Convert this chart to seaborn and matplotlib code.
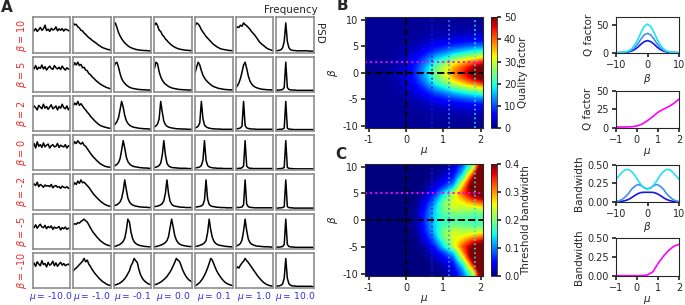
import numpy as np
import matplotlib
matplotlib.use("Agg")
import matplotlib.pyplot as plt
import seaborn as sns

# ---------------- data ----------------
beta_rows = ["10", "5", "2", "0", "-2", "-5", "-10"]
mu_cols = ["-10.0", "-1.0", "-0.1", "0.0", "0.1", "1.0", "10.0"]

# PSD panels (percent of max), 25 samples across the frequency window
psd_beta_10 = [
    [78, 72, 80, 70, 76, 84, 74, 79, 92, 73, 78, 70, 81, 75, 77, 86, 72, 79, 74, 80, 71, 78, 76, 73, 70],
    [100, 93, 95, 86, 82, 74, 72, 64, 60, 53, 48, 44, 39, 35, 31, 27, 22, 19, 15, 12, 10, 8, 6, 5, 4],
    [96, 100, 84, 66, 54, 44, 36, 29, 24, 19, 15, 12, 10, 8, 6, 5, 4, 3, 3, 2, 2, 2, 1, 1, 1],
    [92, 100, 90, 74, 70, 58, 52, 43, 38, 31, 26, 21, 17, 14, 11, 9, 7, 6, 5, 4, 3, 3, 2, 2, 1],
    [90, 100, 96, 88, 76, 68, 60, 52, 46, 40, 34, 28, 23, 19, 15, 12, 9, 7, 6, 5, 4, 3, 2, 2, 1],
    [80, 86, 84, 92, 88, 100, 94, 90, 84, 78, 70, 64, 58, 50, 42, 34, 28, 23, 19, 14, 10, 7, 5, 3, 2],
    [1, 2, 3, 5, 12, 34, 100, 34, 12, 5, 3, 2, 2, 1, 1, 1, 1, 1, 1, 1, 1, 0, 0, 0, 0],
]
psd_beta_5 = [
    [80, 76, 88, 74, 82, 78, 90, 76, 84, 72, 80, 86, 78, 74, 88, 80, 76, 82, 74, 86, 78, 72, 80, 76, 74],
    [86, 98, 90, 100, 88, 92, 80, 82, 72, 70, 60, 56, 49, 44, 38, 33, 28, 24, 20, 17, 14, 11, 9, 7, 6],
    [84, 96, 100, 82, 60, 42, 32, 25, 19, 15, 11, 9, 7, 6, 5, 4, 3, 3, 2, 2, 2, 1, 1, 1, 1],
    [78, 100, 94, 66, 48, 36, 28, 22, 18, 14, 11, 9, 7, 6, 5, 4, 3, 3, 2, 2, 2, 1, 1, 1, 1],
    [62, 84, 100, 90, 70, 54, 44, 36, 30, 25, 20, 16, 13, 11, 9, 7, 6, 5, 4, 3, 3, 2, 2, 2, 1],
    [10, 16, 26, 42, 64, 90, 100, 78, 52, 34, 24, 17, 13, 10, 8, 6, 5, 4, 3, 3, 2, 2, 2, 1, 1],
    [0, 1, 1, 2, 3, 10, 100, 10, 3, 2, 1, 1, 1, 0, 0, 0, 0, 0, 0, 0, 0, 0, 0, 0, 0],
]
psd_beta_2 = [
    [76, 84, 78, 70, 86, 80, 74, 90, 76, 82, 72, 80, 88, 74, 78, 84, 70, 82, 76, 90, 78, 74, 84, 70, 80],
    [84, 94, 88, 100, 86, 92, 84, 76, 70, 62, 56, 48, 42, 36, 30, 25, 20, 16, 13, 11, 9, 8, 6, 5, 5],
    [16, 20, 28, 42, 70, 100, 80, 50, 32, 22, 16, 12, 10, 8, 7, 6, 5, 4, 4, 3, 3, 3, 2, 2, 2],
    [10, 13, 20, 38, 100, 62, 30, 18, 12, 9, 7, 6, 5, 4, 3, 3, 3, 2, 2, 2, 2, 1, 1, 1, 1],
    [6, 8, 12, 24, 100, 40, 16, 10, 7, 5, 4, 3, 3, 2, 2, 2, 2, 1, 1, 1, 1, 1, 1, 1, 1],
    [2, 3, 4, 6, 12, 100, 14, 6, 4, 3, 2, 2, 2, 1, 1, 1, 1, 1, 1, 1, 1, 1, 1, 1, 1],
    [0, 0, 1, 1, 2, 5, 100, 5, 2, 1, 1, 0, 0, 0, 0, 0, 0, 0, 0, 0, 0, 0, 0, 0, 0],
]
psd_beta_0 = [
    [82, 90, 74, 96, 80, 86, 76, 92, 78, 84, 88, 74, 82, 86, 78, 80, 90, 76, 84, 80, 78, 86, 74, 82, 80],
    [86, 96, 90, 100, 92, 88, 94, 84, 80, 72, 64, 56, 48, 42, 36, 30, 25, 20, 16, 13, 10, 8, 7, 6, 5],
    [10, 12, 16, 22, 36, 66, 100, 74, 42, 26, 18, 13, 10, 8, 7, 6, 5, 4, 4, 3, 3, 3, 2, 2, 2],
    [5, 6, 8, 12, 20, 48, 100, 50, 20, 11, 7, 5, 4, 4, 3, 3, 2, 2, 2, 2, 2, 1, 1, 1, 1],
    [3, 4, 5, 7, 12, 30, 100, 30, 12, 7, 5, 4, 3, 3, 2, 2, 2, 2, 1, 1, 1, 1, 1, 1, 1],
    [1, 1, 2, 2, 4, 10, 100, 10, 4, 2, 2, 1, 1, 1, 1, 1, 1, 1, 1, 1, 1, 1, 1, 1, 1],
    [0, 0, 1, 1, 2, 5, 100, 5, 2, 1, 1, 0, 0, 0, 0, 0, 0, 0, 0, 0, 0, 0, 0, 0, 0],
]
psd_beta_m2 = [
    [78, 86, 80, 92, 76, 84, 80, 74, 82, 78, 80, 76, 84, 72, 78, 80, 74, 76, 70, 78, 74, 72, 76, 70, 72],
    [80, 90, 84, 96, 88, 100, 90, 92, 86, 80, 74, 66, 58, 50, 44, 38, 32, 27, 22, 18, 14, 11, 9, 7, 6],
    [8, 10, 12, 16, 22, 34, 60, 100, 66, 36, 22, 15, 11, 9, 7, 6, 5, 4, 4, 3, 3, 3, 2, 2, 2],
    [5, 6, 7, 9, 12, 16, 26, 52, 100, 52, 24, 14, 9, 7, 6, 5, 4, 3, 3, 3, 2, 2, 2, 2, 1],
    [3, 4, 5, 6, 8, 12, 28, 100, 32, 13, 8, 6, 5, 4, 3, 3, 2, 2, 2, 2, 1, 1, 1, 1, 1],
    [1, 2, 2, 3, 4, 12, 100, 14, 5, 3, 2, 2, 1, 1, 1, 1, 1, 1, 1, 1, 1, 1, 1, 1, 1],
    [0, 0, 1, 1, 2, 5, 100, 5, 2, 1, 1, 0, 0, 0, 0, 0, 0, 0, 0, 0, 0, 0, 0, 0, 0],
]
psd_beta_m5 = [
    [74, 70, 80, 68, 76, 82, 72, 70, 78, 66, 74, 70, 76, 64, 72, 68, 70, 74, 62, 70, 66, 72, 64, 68, 66],
    [80, 84, 82, 88, 86, 92, 96, 100, 94, 90, 80, 70, 60, 52, 45, 38, 32, 26, 21, 17, 13, 10, 8, 6, 5],
    [2, 4, 6, 8, 11, 15, 21, 32, 60, 100, 90, 54, 32, 20, 14, 10, 8, 6, 5, 4, 3, 3, 2, 2, 2],
    [2, 3, 4, 6, 8, 10, 13, 17, 24, 38, 70, 100, 72, 42, 26, 17, 12, 9, 7, 6, 5, 4, 3, 3, 2],
    [3, 4, 5, 7, 9, 12, 16, 24, 52, 100, 62, 36, 22, 15, 11, 8, 7, 6, 5, 4, 3, 3, 2, 2, 2],
    [4, 6, 9, 14, 26, 58, 100, 60, 30, 18, 12, 9, 7, 5, 4, 4, 3, 3, 2, 2, 2, 2, 1, 1, 1],
    [0, 1, 1, 2, 3, 10, 100, 10, 3, 2, 1, 1, 0, 0, 0, 0, 0, 0, 0, 0, 0, 0, 0, 0, 0],
]
psd_beta_m10 = [
    [76, 84, 72, 88, 80, 74, 92, 78, 82, 70, 86, 76, 80, 90, 74, 84, 72, 80, 86, 76, 82, 74, 78, 80, 76],
    [55, 62, 66, 72, 78, 84, 90, 100, 88, 94, 80, 72, 62, 54, 46, 40, 33, 27, 22, 17, 14, 10, 7, 5, 4],
    [4, 6, 8, 10, 13, 17, 22, 28, 36, 46, 56, 74, 84, 100, 92, 86, 62, 44, 32, 24, 18, 14, 10, 8, 6],
    [6, 8, 10, 13, 16, 20, 25, 30, 36, 44, 52, 62, 74, 86, 100, 94, 90, 76, 60, 48, 38, 30, 24, 20, 17],
    [3, 6, 10, 15, 22, 30, 40, 52, 66, 82, 100, 94, 80, 66, 54, 44, 36, 28, 22, 16, 12, 9, 7, 5, 4],
    [62, 70, 66, 76, 84, 90, 100, 92, 86, 78, 70, 62, 54, 46, 38, 31, 25, 19, 14, 10, 7, 5, 3, 2, 1],
    [1, 2, 3, 5, 10, 30, 100, 30, 10, 5, 3, 2, 2, 1, 1, 1, 1, 1, 1, 1, 1, 1, 1, 0, 0],
]

# heatmap grids: columns = mu, rows = beta (from -10 to 10)
hm_mu = [-1.0, -0.75, -0.5, -0.25, 0.0, 0.25, 0.5, 0.75, 1.0, 1.25, 1.5, 1.75, 2.0]
hm_beta = list(range(-10, 11))
q_grid = [
    [1, 1, 1, 1, 1, 1, 1, 1, 1, 1, 1, 1, 1],
    [1, 1, 1, 1, 1, 1, 1.1, 1.2, 1.2, 1.3, 1.3, 1.3, 1.4],
    [1, 1, 1, 1, 1.1, 1.2, 1.3, 1.5, 1.6, 1.7, 1.9, 2.0, 2.1],
    [1, 1, 1, 1.1, 1.2, 1.4, 1.7, 2.2, 2.5, 2.9, 3.2, 3.5, 3.7],
    [1, 1, 1, 1.1, 1.4, 1.8, 2.5, 3.5, 4.2, 5.1, 5.7, 6.4, 6.9],
    [1, 1, 1.1, 1.3, 1.7, 2.6, 3.9, 5.8, 7.1, 8.8, 10.0, 11.3, 12.3],
    [1, 1, 1.1, 1.4, 2.3, 3.7, 6.0, 9.3, 11.4, 14.3, 16.5, 18.6, 20.4],
    [1, 1.1, 1.2, 1.7, 3.0, 5.2, 8.8, 13.9, 17.2, 21.7, 25.1, 28.4, 31.2],
    [1, 1.1, 1.2, 1.9, 3.7, 6.9, 11.9, 18.9, 23.6, 29.9, 34.5, 39.2, 43.1],
    [1, 1.1, 1.3, 2.1, 4.3, 8.1, 14.2, 22.6, 28.3, 35.8, 41.4, 47.1, 51.8],
    [1, 1.1, 1.3, 2.2, 4.5, 8.5, 15.0, 24.0, 30.0, 38.0, 44.0, 50.0, 55.0],
    [1, 1.1, 1.3, 2.1, 4.3, 8.1, 14.2, 22.6, 28.3, 35.8, 41.4, 47.1, 51.8],
    [1, 1.1, 1.2, 1.9, 3.7, 6.9, 11.9, 18.9, 23.6, 29.9, 34.5, 39.2, 43.1],
    [1, 1.1, 1.2, 1.7, 3.0, 5.2, 8.8, 13.9, 17.2, 21.7, 25.1, 28.4, 31.2],
    [1, 1, 1.1, 1.4, 2.3, 3.7, 6.0, 9.3, 11.4, 14.3, 16.5, 18.6, 20.4],
    [1, 1, 1.1, 1.3, 1.7, 2.6, 3.9, 5.8, 7.1, 8.8, 10.0, 11.3, 12.3],
    [1, 1, 1, 1.1, 1.4, 1.8, 2.5, 3.5, 4.2, 5.1, 5.7, 6.4, 6.9],
    [1, 1, 1, 1.1, 1.2, 1.4, 1.7, 2.2, 2.5, 2.9, 3.2, 3.5, 3.7],
    [1, 1, 1, 1, 1.1, 1.2, 1.3, 1.5, 1.6, 1.7, 1.9, 2.0, 2.1],
    [1, 1, 1, 1, 1, 1, 1.1, 1.2, 1.2, 1.3, 1.3, 1.3, 1.4],
    [1, 1, 1, 1, 1, 1, 1, 1, 1, 1, 1, 1, 1],
]
bw_grid = [
    [0, 0, 0, 0, 0, 0, 0, 0, 0.01, 0.03, 0.09, 0.20, 0.45],
    [0, 0, 0, 0, 0, 0, 0, 0.004, 0.015, 0.04, 0.12, 0.28, 0.50],
    [0, 0, 0, 0, 0, 0, 0, 0.01, 0.03, 0.06, 0.17, 0.36, 0.50],
    [0, 0, 0, 0, 0, 0, 0.003, 0.02, 0.05, 0.09, 0.24, 0.42, 0.48],
    [0, 0, 0, 0, 0, 0, 0.006, 0.035, 0.08, 0.14, 0.30, 0.43, 0.46],
    [0, 0, 0, 0, 0, 0, 0.012, 0.06, 0.14, 0.23, 0.33, 0.40, 0.43],
    [0, 0, 0, 0, 0, 0.002, 0.03, 0.09, 0.17, 0.24, 0.29, 0.35, 0.38],
    [0, 0, 0, 0, 0, 0.003, 0.045, 0.115, 0.20, 0.25, 0.25, 0.28, 0.305],
    [0, 0, 0, 0, 0, 0.006, 0.06, 0.13, 0.195, 0.235, 0.225, 0.225, 0.235],
    [0, 0, 0, 0, 0, 0.01, 0.065, 0.135, 0.175, 0.195, 0.19, 0.185, 0.185],
    [0, 0, 0, 0, 0.002, 0.012, 0.07, 0.135, 0.165, 0.18, 0.175, 0.17, 0.17],
    [0, 0, 0, 0, 0, 0.01, 0.065, 0.135, 0.175, 0.195, 0.19, 0.185, 0.185],
    [0, 0, 0, 0, 0, 0.006, 0.06, 0.13, 0.195, 0.235, 0.225, 0.225, 0.235],
    [0, 0, 0, 0, 0, 0.003, 0.045, 0.115, 0.20, 0.25, 0.25, 0.28, 0.305],
    [0, 0, 0, 0, 0, 0.002, 0.03, 0.09, 0.17, 0.24, 0.29, 0.35, 0.38],
    [0, 0, 0, 0, 0, 0, 0.012, 0.06, 0.14, 0.23, 0.33, 0.40, 0.43],
    [0, 0, 0, 0, 0, 0, 0.006, 0.035, 0.08, 0.14, 0.30, 0.43, 0.46],
    [0, 0, 0, 0, 0, 0, 0.003, 0.02, 0.05, 0.09, 0.24, 0.42, 0.48],
    [0, 0, 0, 0, 0, 0, 0, 0.01, 0.03, 0.06, 0.17, 0.36, 0.50],
    [0, 0, 0, 0, 0, 0, 0, 0.004, 0.015, 0.04, 0.12, 0.28, 0.50],
    [0, 0, 0, 0, 0, 0, 0, 0, 0.01, 0.03, 0.09, 0.20, 0.45],
]

cut_mu = [0.7, 1.15, 1.85]
cut_beta_q = 2
cut_beta_bw = 5

# cross-sections
beta_line = list(range(-10, 11))
q_beta_low = [1, 1.1, 1.3, 1.6, 2.4, 4.0, 6.8, 11.1, 16.5, 20.8, 22.5, 20.8, 16.5, 11.1, 6.8, 4.0, 2.4, 1.6, 1.3, 1.1, 1]
q_beta_mid = [1, 1.1, 1.4, 2.0, 3.2, 5.8, 10.3, 17.2, 25.8, 32.7, 35.5, 32.7, 25.8, 17.2, 10.3, 5.8, 3.2, 2.0, 1.4, 1.1, 1]
q_beta_high = [1, 1.2, 1.6, 2.5, 4.3, 8.1, 14.8, 25.0, 37.7, 47.9, 52, 47.9, 37.7, 25.0, 14.8, 8.1, 4.3, 2.5, 1.6, 1.2, 1]
mu_line = [-1.0, -0.75, -0.5, -0.25, 0.0, 0.25, 0.5, 0.75, 1.0, 1.25, 1.5, 1.75, 2.0]
q_mu = [0.8, 0.9, 1.0, 1.3, 2.3, 5.0, 9.5, 15.0, 21.0, 25.0, 28.5, 33.0, 39.0]
bw_beta_low = [0, 0, 0.005, 0.015, 0.03, 0.055, 0.085, 0.11, 0.125, 0.128, 0.128, 0.128, 0.125, 0.11, 0.085, 0.055, 0.03, 0.015, 0.005, 0, 0]
bw_beta_mid = [0, 0.01, 0.03, 0.065, 0.11, 0.17, 0.21, 0.235, 0.22, 0.19, 0.175, 0.19, 0.22, 0.235, 0.21, 0.17, 0.11, 0.065, 0.03, 0.01, 0]
bw_beta_high = [0.305, 0.35, 0.40, 0.435, 0.44, 0.41, 0.36, 0.29, 0.23, 0.185, 0.17, 0.185, 0.23, 0.29, 0.36, 0.41, 0.44, 0.435, 0.40, 0.35, 0.305]
bw_mu = [0, 0, 0, 0, 0, 0.002, 0.01, 0.05, 0.165, 0.26, 0.34, 0.395, 0.42]

# ---------------- styling ----------------
sns.set_theme(style="ticks")
plt.rcParams["font.family"] = ["DejaVu Sans"]
plt.rcParams["font.size"] = 7
plt.rcParams["axes.labelsize"] = 7.5
plt.rcParams["xtick.labelsize"] = 7
plt.rcParams["ytick.labelsize"] = 7
plt.rcParams["xtick.major.size"] = 3
plt.rcParams["ytick.major.size"] = 3
plt.rcParams["xtick.major.pad"] = 2
plt.rcParams["ytick.major.pad"] = 2
plt.rcParams["axes.linewidth"] = 0.8

cut_colors = ["#1616e0", "#3f8ef5", "#1fe3f2"]
magenta = "#ff00ff"
red_txt = "#ee2a2a"
blue_txt = "#2a2ae0"

W, H = 685, 305
fig = plt.figure(figsize=(W / 100, H / 100), dpi=100)


def px_ax(x0, y0, x1, y1):
    return fig.add_axes([x0 / W, 1 - y1 / H, (x1 - x0) / W, (y1 - y0) / H])


# ---------------- panel A ----------------
psd_all = [psd_beta_10, psd_beta_5, psd_beta_2, psd_beta_0, psd_beta_m2, psd_beta_m5, psd_beta_m10]
freq = np.linspace(0, 1, 25)
col_left, col_step, pw = 32.5, 40.65, 37.5
row_top, row_step, ph = 17.3, 39.25, 35.2
for r in range(7):
    for c in range(7):
        x0 = col_left + c * col_step
        y0 = row_top + r * row_step
        ax = px_ax(x0, y0, x0 + pw, y0 + ph)
        sns.lineplot(x=freq, y=psd_all[r][c], ax=ax, color="black", lw=1.1)
        ax.set_xlim(0, 1)
        ax.set_ylim(-5, 120)
        ax.set_xticks([])
        ax.set_yticks([])
        ax.set_xlabel("")
        ax.set_ylabel("")
        for s in ax.spines.values():
            s.set_color("#8c8c8c")
            s.set_linewidth(1.2)
    cy = row_top + r * row_step + ph / 2
    fig.text(22 / W, 1 - cy / H, r"$\beta=\,$" + beta_rows[r], rotation=90, color=red_txt,
             ha="center", va="center", fontsize=7)
for c in range(7):
    cx = col_left + c * col_step + pw / 2
    fig.text(cx / W, 1 - 296.5 / H, r"$\mu=\,$" + mu_cols[c], color=blue_txt,
             ha="center", va="center", fontsize=6.6)
fig.text(318 / W, 1 - 10 / H, "Frequency", ha="right", va="center", fontsize=7.5)
fig.text(319 / W, 1 - 33 / H, "PSD", rotation=-90, ha="center", va="center", fontsize=7.5)
fig.text(7 / W, 1 - 7 / H, "A", weight="bold", fontsize=11, ha="center", va="center")


# ---------------- panels B, C ----------------
def heat(y0, y1, grid, vmax, cticks, clabel, hline_y):
    ax = px_ax(365, y0, 483.3, y1)
    im = ax.imshow(np.array(grid, float), origin="lower", aspect="auto", cmap="jet",
                   vmin=0, vmax=vmax, interpolation="bilinear", interpolation_stage="data",
                   extent=[hm_mu[0] - 0.125, hm_mu[-1] + 0.125, hm_beta[0] - 0.5, hm_beta[-1] + 0.5])
    ax.set_xlim(-1.1, 2.07)
    ax.set_ylim(-10.45, 10.45)
    ax.axvline(0, color="black", ls="--", lw=1.4)
    ax.axhline(0, color="black", ls="--", lw=1.4)
    for m, col in zip(cut_mu, cut_colors):
        ax.axvline(m, color=col, ls=":", lw=1.2)
    ax.axhline(hline_y, color=magenta, ls=":", lw=1.4)
    ax.set_xticks([-1, 0, 1, 2])
    ax.set_xticklabels(["-1", "0", "1", "2"])
    ax.set_yticks([-10, -5, 0, 5, 10])
    ax.set_yticklabels(["-10", "-5", "0", "5", "10"])
    ax.set_xlabel(r"$\mu$", labelpad=0)
    ax.set_ylabel(r"$\beta$", labelpad=2)
    cax = px_ax(490.7, y0, 497, y1)
    cb = fig.colorbar(im, cax=cax)
    cb.set_ticks(cticks)
    cb.ax.tick_params(labelsize=7, length=3, pad=2)
    cb.set_label(clabel, fontsize=7.5, labelpad=1)
    cb.outline.set_linewidth(0.6)
    return ax


heat(17.3, 128, q_grid, 50, [0, 10, 20, 30, 40, 50], "Quality factor", cut_beta_q)
heat(164.3, 276, bw_grid, 0.4, [0.0, 0.1, 0.2, 0.3, 0.4], "Threshold bandwidth", cut_beta_bw)
fig.text(342 / W, 1 - 6 / H, "B", weight="bold", fontsize=11, ha="center", va="center")
fig.text(341 / W, 1 - 154 / H, "C", weight="bold", fontsize=11, ha="center", va="center")

# ---------------- right column ----------------
rx0, rx1 = 615.7, 679.3
ax1 = px_ax(rx0, 17.3, rx1, 53.3)
for ys, col in zip([q_beta_low, q_beta_mid, q_beta_high], cut_colors):
    sns.lineplot(x=beta_line, y=ys, ax=ax1, color=col, lw=1.2)
ax1.set_xlim(-10, 10)
ax1.set_ylim(0, 64)
ax1.set_xticks([-10, 0, 10])
ax1.set_yticks([0, 50])
ax1.set_xlabel(r"$\beta$", labelpad=1)
ax1.set_ylabel("Q factor", labelpad=2)

ax2 = px_ax(rx0, 90.7, rx1, 127.7)
sns.lineplot(x=mu_line, y=q_mu, ax=ax2, color=magenta, lw=1.2)
ax2.set_xlim(-1, 2)
ax2.set_ylim(0, 50)
ax2.set_xticks([-1, 0, 1, 2])
ax2.set_yticks([0, 25, 50])
ax2.set_xlabel(r"$\mu$", labelpad=1)
ax2.set_ylabel("Q factor", labelpad=2)

ax3 = px_ax(rx0, 165, rx1, 201.7)
for ys, col in zip([bw_beta_low, bw_beta_mid, bw_beta_high], cut_colors):
    sns.lineplot(x=beta_line, y=ys, ax=ax3, color=col, lw=1.2)
ax3.set_xlim(-10, 10)
ax3.set_ylim(0, 0.5)
ax3.set_xticks([-10, 0, 10])
ax3.set_yticks([0, 0.25, 0.5])
ax3.set_yticklabels(["0.00", "0.25", "0.50"])
ax3.set_xlabel(r"$\beta$", labelpad=1)
ax3.set_ylabel("Bandwidth", labelpad=2)

ax4 = px_ax(rx0, 238.3, rx1, 275.7)
sns.lineplot(x=mu_line, y=bw_mu, ax=ax4, color=magenta, lw=1.2)
ax4.set_xlim(-1, 2)
ax4.set_ylim(0, 0.5)
ax4.set_xticks([-1, 0, 1, 2])
ax4.set_yticks([0, 0.25, 0.5])
ax4.set_yticklabels(["0.00", "0.25", "0.50"])
ax4.set_xlabel(r"$\mu$", labelpad=1)
ax4.set_ylabel("Bandwidth", labelpad=2)

fig.savefig("out.png", dpi=100)
